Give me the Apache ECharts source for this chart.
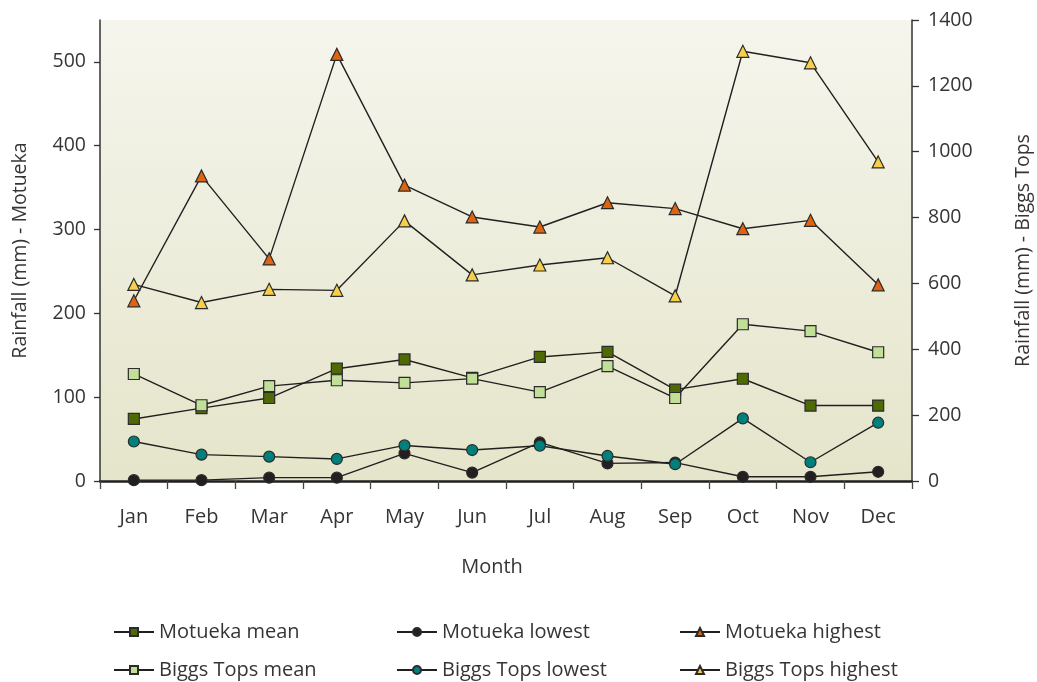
<!DOCTYPE html>
<html><head><meta charset="utf-8">
<script src="https://cdn.jsdelivr.net/npm/echarts@6/dist/echarts.min.js"></script>
<style>html,body{margin:0;padding:0;background:#fff}#c{width:1037px;height:682px}</style>
</head><body><div id="c"></div>
<script>
const months = ['Jan','Feb','Mar','Apr','May','Jun','Jul','Aug','Sep','Oct','Nov','Dec'];
const motuekaMean = [74, 87, 99, 134, 145, 123, 148, 154, 109, 122, 90, 90];
const biggsMean = [325, 230, 288, 306, 298, 311, 270, 349, 252, 476, 455, 391];
const motuekaLow = [1, 1, 4, 4, 33, 10, 46, 21, 22, 5, 5, 11];
const biggsLow = [120, 80, 74, 67, 108, 94, 107, 76, 51, 190, 57, 177];
const motuekaHigh = [215, 364, 265, 509, 353, 315, 303, 332, 325, 301, 311, 234];
const biggsHigh = [597, 542, 582, 579, 790, 626, 656, 678, 562, 1305, 1270, 969];
const leftTicks = [0, 100, 200, 300, 400, 500];

const FONT = "'Open Sans', 'Noto Sans', sans-serif";
const TXT = '#353535';
const LINE = '#231f20';

function mk(name, data, yIdx, symbol, size, color) {
  return {
    name, type: 'line', data, yAxisIndex: yIdx, symbol, symbolSize: size,
    lineStyle: { color: LINE, width: 1.4 },
    itemStyle: { color, borderColor: '#2b2b2b', borderWidth: 1.2 },
    emphasis: { disabled: true }, animation: false
  };
}

function lg(name, left, top) {
  return {
    orient: 'horizontal', left, top, itemWidth: 40, itemHeight: 10,
    textStyle: { fontFamily: FONT, fontSize: 20, color: TXT },
    selectedMode: false, data: [name]
  };
}

const chart = echarts.init(document.getElementById('c'));
chart.setOption({
  backgroundColor: '#fff',
  textStyle: { fontFamily: FONT },
  grid: {
    left: 100, right: 125, top: 20, bottom: 201, show: true, borderWidth: 0,
    containLabel: false, outerBoundsMode: 'none',
    backgroundColor: { type: 'linear', x: 0, y: 0, x2: 0, y2: 1,
      colorStops: [{ offset: 0, color: '#f5f5ed' }, { offset: 1, color: '#e5e5cb' }] }
  },
  legend: [
    lg('Motueka mean', 108, 617), lg('Biggs Tops mean', 108, 655),
    lg('Motueka lowest', 391, 617), lg('Biggs Tops lowest', 391, 655),
    lg('Motueka highest', 674, 617), lg('Biggs Tops highest', 674, 655)
  ],
  xAxis: {
    type: 'category', data: months, boundaryGap: true,
    name: 'Month', nameLocation: 'middle', nameGap: 76,
    nameTextStyle: { fontFamily: FONT, fontSize: 20, color: TXT, padding: [0, 28, 0, 0] },
    axisLine: { lineStyle: { color: LINE, width: 2.5 } },
    axisTick: { show: true, length: 8, lineStyle: { color: '#444', width: 1.3 } },
    axisLabel: { fontFamily: FONT, fontSize: 20, color: TXT, margin: 26 },
    splitLine: { show: false }
  },
  yAxis: [
    {
      type: 'value', min: 0, max: 550, interval: 100, position: 'left',
      name: 'Rainfall (mm) - Motueka', nameLocation: 'middle', nameGap: 70,
      nameTextStyle: { fontFamily: FONT, fontSize: 19.5, color: TXT },
      axisLine: { show: true, lineStyle: { color: '#333', width: 1.5 } },
      axisTick: { show: true, length: 6, lineStyle: { color: '#333', width: 1.3 }, customValues: leftTicks },
      axisLabel: { fontFamily: FONT, fontSize: 19.5, color: TXT, margin: 14, customValues: leftTicks },
      splitLine: { show: false }
    },
    {
      type: 'value', min: 0, max: 1400, interval: 200, position: 'right',
      name: 'Rainfall (mm) - Biggs Tops', nameLocation: 'middle', nameGap: 101,
      nameRotate: 90,
      nameTextStyle: { fontFamily: FONT, fontSize: 19.5, color: TXT },
      axisLine: { show: true, lineStyle: { color: '#333', width: 1.5 } },
      axisTick: { show: true, length: 7, lineStyle: { color: '#333', width: 1.3 } },
      axisLabel: { fontFamily: FONT, fontSize: 19.5, color: TXT, margin: 16,
        formatter: v => String(v) },
      splitLine: { show: false }
    }
  ],
  series: [
    mk('Motueka mean', motuekaMean, 0, 'rect', 11, '#4f6a05'),
    mk('Biggs Tops mean', biggsMean, 1, 'rect', 11, '#c2df97'),
    mk('Motueka lowest', motuekaLow, 0, 'circle', 11, '#231f20'),
    mk('Biggs Tops lowest', biggsLow, 1, 'circle', 11, '#00807b'),
    mk('Motueka highest', motuekaHigh, 0, 'triangle', 12, '#e0640f'),
    mk('Biggs Tops highest', biggsHigh, 1, 'triangle', 12, '#f8cf48')
  ]
});
</script></body></html>
